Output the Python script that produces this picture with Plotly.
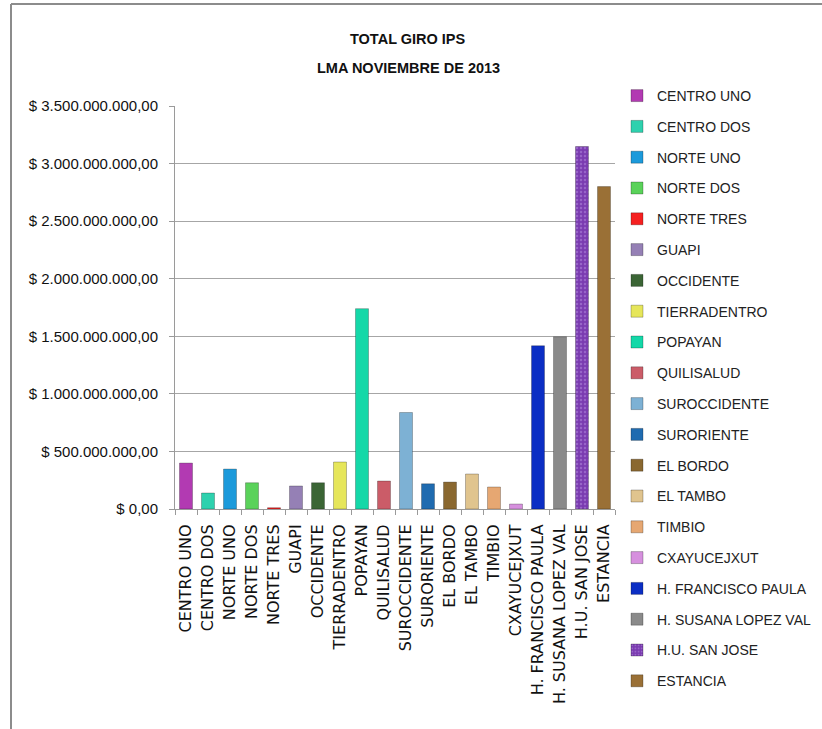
import plotly.graph_objects as go

categories = ["CENTRO UNO", "CENTRO DOS", "NORTE UNO", "NORTE DOS", "NORTE TRES",
              "GUAPI", "OCCIDENTE", "TIERRADENTRO", "POPAYAN", "QUILISALUD",
              "SUROCCIDENTE", "SURORIENTE", "EL BORDO", "EL TAMBO", "TIMBIO",
              "CXAYUCEJXUT", "H. FRANCISCO PAULA", "H. SUSANA LOPEZ VAL",
              "H.U. SAN JOSE", "ESTANCIA"]
values = [399e6, 139e6, 347e6, 228e6, 11e6,
          200e6, 228e6, 408e6, 1740e6, 243e6,
          838e6, 219e6, 234e6, 304e6, 191e6,
          43e6, 1418e6, 1496e6, 3148e6, 2800e6]
colors = ["#B23AB2", "#2ED1AE", "#1C9ADB", "#5AD25A", "#F52020",
          "#9580B5", "#3B6535", "#E6E65A", "#14D8A8", "#CB5C68",
          "#7DB1D4", "#1F6BB0", "#8A6830", "#E0C48E", "#E6A772",
          "#D690DE", "#0B2EC4", "#8A8A8A", "#7A3BB0", "#9A7036"]
tick_vals = [0, 500e6, 1000e6, 1500e6, 2000e6, 2500e6, 3000e6, 3500e6]
tick_text = ["$ 0,00", "$ 500.000.000,00", "$ 1.000.000.000,00", "$ 1.500.000.000,00",
             "$ 2.000.000.000,00", "$ 2.500.000.000,00", "$ 3.000.000.000,00",
             "$ 3.500.000.000,00"]
title_lines = ["TOTAL GIRO IPS", "LMA NOVIEMBRE DE 2013"]

FONT = "Liberation Sans, Arial, sans-serif"

fig = go.Figure()
for c, v, col in zip(categories, values, colors):
    pattern = dict(shape=".", fgcolor="#B58BE0", size=4, solidity=0.3) if c == "H.U. SAN JOSE" else None
    fig.add_trace(go.Bar(
        x=[c], y=[v], name=c, legendgroup=c, width=0.59,
        marker=dict(color=col, line=dict(color="rgba(0,0,0,0.25)", width=1),
                    pattern=pattern),
    ))

W, H = 822, 729
# plot area in window pixels: x 175..615, y 106..509
L, R, T, B = 175, W - 615, 106, H - 509
pw, ph = W - L - R, H - T - B

def px(x):
    return (x - L) / pw

def py(y):
    return (H - B - y) / ph

frame = dict(color="#8c8c8c", width=2)

fig.update_layout(
    width=W, height=H,
    margin=dict(l=L, r=R, t=T, b=B, autoexpand=False),
    paper_bgcolor="white", plot_bgcolor="white",
    barmode="overlay",
    showlegend=True,
    legend=dict(x=px(617), y=py(80), xanchor="left", yanchor="top",
                font=dict(family=FONT, size=14, color="#222"),
                tracegroupgap=9.6, maxheight=700, bgcolor="rgba(0,0,0,0)"),
    xaxis=dict(type="category", tickangle=-90, showgrid=False,
               showline=True, linecolor="#9a9a9a", linewidth=1,
               ticks="outside", tickson="boundaries", ticklen=5, tickcolor="#9a9a9a",
               tickfont=dict(family="DejaVu Sans", size=16, color="#111"),
               ticklabelstandoff=8),
    yaxis=dict(range=[0, 3.5e9], tickvals=tick_vals, ticktext=tick_text,
               showgrid=True, gridcolor="#a6a6a6", gridwidth=1,
               showline=True, linecolor="#9a9a9a", linewidth=1,
               ticks="outside", ticklen=5, tickcolor="#9a9a9a",
               tickfont=dict(family=FONT, size=15, color="#111"),
               ticklabelstandoff=8, zeroline=False),
    annotations=[
        dict(text="<b>%s</b>" % title_lines[0], x=px(408), y=py(39), xref="paper", yref="paper",
             xanchor="center", yanchor="middle",
             showarrow=False, font=dict(family=FONT, size=14.5, color="#111")),
        dict(text="<b>%s</b>" % title_lines[1], x=px(408), y=py(68), xref="paper", yref="paper",
             xanchor="center", yanchor="middle",
             showarrow=False, font=dict(family=FONT, size=14.5, color="#111")),
    ],
    shapes=[
        dict(type="line", xref="paper", yref="paper", x0=px(11), x1=px(840), y0=py(4), y1=py(4),
             line=frame, layer="above"),
        dict(type="line", xref="paper", yref="paper", x0=px(11), x1=px(11), y0=py(4), y1=py(760),
             line=frame, layer="above"),
    ],
)

fig.write_html("out.html", config={"displayModeBar": False},
               post_script="document.body.style.margin='0px';")
